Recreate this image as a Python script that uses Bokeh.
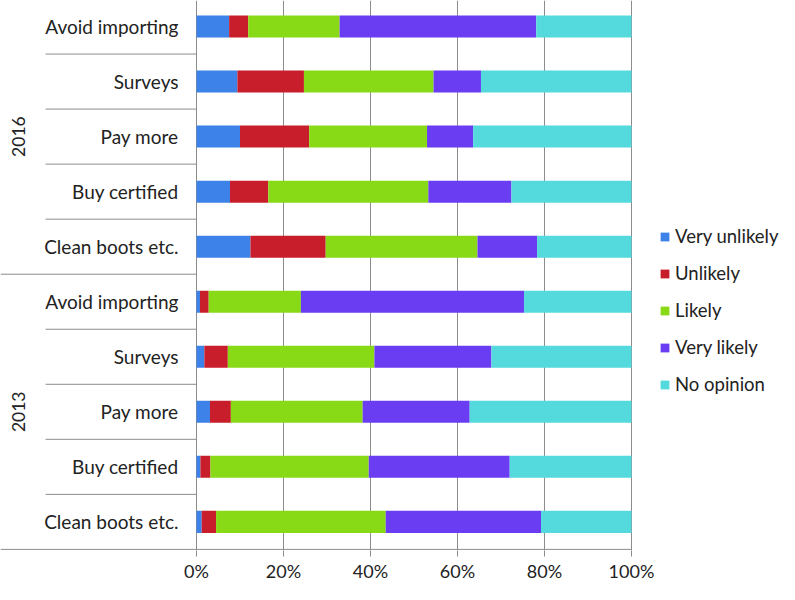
from bokeh.plotting import figure
from bokeh.models import ColumnDataSource, Range1d, FixedTicker
from bokeh.core.properties import value
from bokeh.embed import file_html
from bokeh.resources import INLINE
import math

# ---------------- data ----------------
categories = ["Clean boots etc.", "Buy certified", "Pay more", "Surveys", "Avoid importing"]
years = ["2013", "2016"]
series = ["very_unlikely", "unlikely", "likely", "very_likely", "no_opinion"]
series_labels = ["Very unlikely", "Unlikely", "Likely", "Very likely", "No opinion"]
colors = ["#3d82e8", "#c81d2a", "#88da17", "#6a3df2", "#54d9dd"]

very_unlikely_2013 = [1.2, 0.9, 3.1, 1.8, 0.8]
unlikely_2013 = [3.3, 2.3, 4.8, 5.4, 2.0]
likely_2013 = [39.0, 36.4, 30.3, 33.7, 21.2]
very_likely_2013 = [35.7, 32.4, 24.6, 26.9, 51.3]
no_opinion_2013 = [20.8, 28.0, 37.2, 32.2, 24.7]

very_unlikely_2016 = [12.4, 7.7, 10.0, 9.4, 7.5]
unlikely_2016 = [17.3, 8.8, 15.9, 15.3, 4.4]
likely_2016 = [34.9, 36.8, 27.1, 29.8, 21.0]
very_likely_2016 = [13.7, 19.1, 10.6, 10.9, 45.2]
no_opinion_2016 = [21.7, 27.6, 36.4, 34.6, 21.9]

tick_values = [0, 20, 40, 60, 80, 100]
tick_labels = ["0%", "20%", "40%", "60%", "80%", "100%"]

# ---------------- build table ----------------
n_rows = len(categories) * len(years)
rows_y = [i + 0.5 for i in range(n_rows)]
data = {
    "y": rows_y,
    "cat": categories * 2,
    "very_unlikely": very_unlikely_2013 + very_unlikely_2016,
    "unlikely": unlikely_2013 + unlikely_2016,
    "likely": likely_2013 + likely_2016,
    "very_likely": very_likely_2013 + very_likely_2016,
    "no_opinion": no_opinion_2013 + no_opinion_2016,
}
source = ColumnDataSource(data)

X0, X1 = -45.06, 134.03
Y0, Y1 = -0.02, 9.973

p = figure(width=779, height=584, output_backend="svg", toolbar_location=None,
           x_range=Range1d(X0, X1), y_range=Range1d(Y0, Y1),
           y_axis_location=None, min_border=0, min_border_left=0,
           min_border_right=0, min_border_top=0, min_border_bottom=0)
p.outline_line_color = None
p.background_fill_color = "white"

p.hbar_stack(series, y="y", height=0.4, color=colors, source=source,
             legend_label=series_labels, line_color=None)

# grid
grid_color = "#8c8c8c"
p.ygrid.visible = False
p.xgrid.ticker = FixedTicker(ticks=tick_values)
p.xgrid.grid_line_color = grid_color
p.xgrid.grid_line_width = 1

# x axis
ax = p.xaxis[0]
ax.axis_label = None
ax.ticker = FixedTicker(ticks=tick_values)
ax.major_label_overrides = {v: l for v, l in zip(tick_values, tick_labels)}
ax.axis_line_color = None
ax.major_tick_line_color = grid_color
ax.major_tick_out = 6
ax.major_tick_in = 0
ax.minor_tick_line_color = None
ax.major_label_standoff = 3
ax.major_label_text_font = "Lato"
ax.major_label_text_font_size = "18px"
ax.major_label_text_color = "#222222"

# bottom axis line spanning label box and plot
p.segment(x0=[X0], y0=[0], x1=[tick_values[-1]], y1=[0], line_color=grid_color, line_width=1)

# category separators
sep_y = [float(i) for i in range(1, n_rows)]
sep_x0 = [X0 if i == len(categories) else -34.7 for i in range(1, n_rows)]
p.segment(x0=sep_x0, y0=sep_y, x1=[0] * len(sep_y), y1=sep_y, line_color=grid_color, line_width=1)

# category labels
p.text(x=[-4.14] * n_rows, y=rows_y, text=categories * 2, text_align="right",
       text_baseline="middle", text_font=value("Lato"), text_font_size="19px",
       text_color="#222222")

# year labels
year_y = [len(categories) * (k + 0.5) for k in range(len(years))]
p.text(x=[-40.9] * len(years), y=year_y, text=years, angle=math.pi / 2,
       text_align="center", text_baseline="middle", text_font=value("Lato"),
       text_font_size="17.5px", text_color="#222222")

# legend
lg = p.legend[0]
lg.location = (659, 155)
lg.border_line_color = None
lg.background_fill_alpha = 0
lg.padding = 0
lg.margin = 0
lg.spacing = 15
lg.glyph_width = 11
lg.glyph_height = 11
lg.label_height = 22
lg.label_standoff = 5
lg.label_text_font = "Lato"
lg.label_text_font_size = "18.5px"
lg.label_text_color = "#222222"

open("out.html", "w").write(file_html(p, INLINE))
